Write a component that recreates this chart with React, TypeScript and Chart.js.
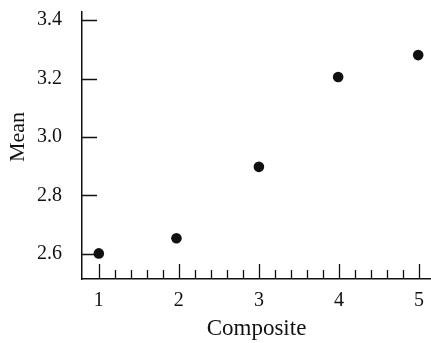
import { useEffect, useRef } from "react";
import { Chart, registerables } from "chart.js";

Chart.register(...registerables);

const compositeValues = [1, 1.97, 3, 3.99, 4.99];
const meanValues = [2.602, 2.654, 2.898, 3.205, 3.28];
const xTickValues = [1, 2, 3, 4, 5];
const yTickValues = [2.6, 2.8, 3.0, 3.2, 3.4];
const xMinorStep = 0.2;
const xAxisTitle = "Composite";
const yAxisTitle = "Mean";

const FONT = "'Liberation Serif', 'Times New Roman', serif";
const INK = "#111";

export default function App() {
  const ref = useRef<HTMLCanvasElement>(null);

  useEffect(() => {
    document.body.style.margin = "0";
    if (!ref.current) return;

    const tickMarks = {
      id: "tickMarks",
      afterDraw(chart: any) {
        const { ctx, chartArea, scales } = chart;
        const x = scales.x;
        const y = scales.y;
        ctx.save();
        ctx.strokeStyle = INK;
        ctx.lineWidth = 1.3;
        ctx.beginPath();
        yTickValues.forEach((v) => {
          const py = Math.round(y.getPixelForValue(v)) + 0.5;
          ctx.moveTo(chartArea.left, py);
          ctx.lineTo(chartArea.left + 15, py);
        });
        for (let i = 0; ; i++) {
          const v = xTickValues[0] + i * xMinorStep;
          if (v > x.max + 1e-9) break;
          const px = Math.round(x.getPixelForValue(v)) + 0.5;
          const major = Math.abs(v - Math.round(v)) < 1e-6;
          ctx.moveTo(px, chartArea.bottom);
          ctx.lineTo(px, chartArea.bottom - (major ? 15 : 9));
        }
        ctx.stroke();

        // y-axis title, centred on the middle tick
        const midTick = yTickValues[Math.floor(yTickValues.length / 2)];
        const cy = y.getPixelForValue(midTick);
        ctx.translate(18, cy);
        ctx.rotate(-Math.PI / 2);
        ctx.fillStyle = INK;
        ctx.font = `22px ${FONT}`;
        ctx.textAlign = "center";
        ctx.textBaseline = "middle";
        ctx.fillText(yAxisTitle, 0, 0);
        ctx.restore();
      },
    };

    const noPad = (s: any) => {
      s.paddingTop = 0;
      s.paddingBottom = 0;
      s.paddingLeft = 0;
      s.paddingRight = 0;
    };

    const chart = new Chart(ref.current, {
      type: "scatter",
      data: {
        datasets: [
          {
            data: compositeValues.map((c, i) => ({ x: c, y: meanValues[i] })),
            backgroundColor: INK,
            borderColor: INK,
            pointRadius: 5.3,
            pointHoverRadius: 5.3,
            borderWidth: 0,
          },
        ],
      },
      options: {
        animation: false,
        responsive: true,
        maintainAspectRatio: false,
        layout: { autoPadding: false, padding: { top: 12, left: 0, right: 0, bottom: 0 } },
        plugins: { legend: { display: false }, tooltip: { enabled: false } },
        scales: {
          x: {
            type: "linear",
            min: 0.79,
            max: 5.15,
            afterBuildTicks: (s: any) => {
              s.ticks = xTickValues.map((v) => ({ value: v }));
            },
            afterFit: (s: any) => {
              s.height = 64;
              noPad(s);
            },
            grid: { display: false, drawTicks: false },
            border: { display: true, color: INK, width: 1.5 },
            ticks: {
              color: INK,
              font: { family: FONT, size: 20 },
              padding: 10,
              maxRotation: 0,
              callback: (v: any) => String(v),
            },
            title: {
              display: true,
              text: xAxisTitle,
              color: INK,
              font: { family: FONT, size: 23 },
              padding: { top: 0, bottom: 0 },
            },
          },
          y: {
            type: "linear",
            min: 2.5145,
            max: 3.4274,
            afterBuildTicks: (s: any) => {
              s.ticks = yTickValues.map((v) => ({ value: v }));
            },
            afterFit: (s: any) => {
              s.width = 82;
              noPad(s);
            },
            grid: { display: false, drawTicks: false },
            border: { display: true, color: INK, width: 1.5 },
            ticks: {
              color: INK,
              font: { family: FONT, size: 20 },
              padding: 20,
              callback: (v: any) => Number(v).toFixed(1),
            },
            title: { display: false },
          },
        },
      },
      plugins: [tickMarks],
    });

    return () => chart.destroy();
  }, []);

  return (
    <div style={{ width: 431, height: 343, position: "relative", background: "#fff" }}>
      <canvas ref={ref} aria-label={`${yAxisTitle} by ${xAxisTitle}`} />
    </div>
  );
}
